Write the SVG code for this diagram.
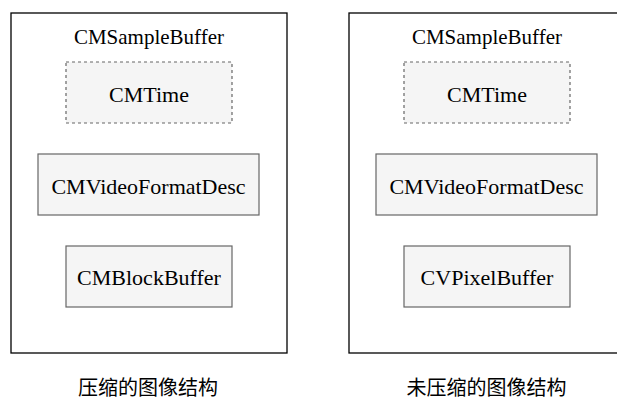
<svg xmlns="http://www.w3.org/2000/svg" width="617" height="403" viewBox="0 0 617 403">
<style>
.outer{fill:#fff;stroke:#000;stroke-width:1.3}
.inner{fill:#f5f5f5;stroke:#666;stroke-width:1.2}
.dash{stroke-dasharray:3 3}
.t{font-family:"Liberation Serif","Times New Roman",serif;font-size:22px;fill:#000;text-anchor:middle}
.title{font-size:21px}
.cap{font-family:"Noto Sans CJK SC","Noto Sans",sans-serif;font-size:20px;fill:#000;text-anchor:middle}
</style>
<rect width="617" height="403" fill="#fff"/>
<g id="left">
  <g id="left-buffer">
    <rect class="outer" x="11" y="13" width="276" height="340"/>
    <text class="t title" x="149" y="43.5">CMSampleBuffer</text>
  </g>
  <g id="left-cmtime">
    <rect class="inner dash" x="66" y="62" width="166" height="61"/>
    <text class="t" x="149" y="102">CMTime</text>
  </g>
  <g id="left-format">
    <rect class="inner" x="38" y="154" width="221" height="61"/>
    <text class="t" x="148.5" y="193.5">CMVideoFormatDesc</text>
  </g>
  <g id="left-block">
    <rect class="inner" x="66" y="246" width="166" height="61"/>
    <text class="t" x="149" y="285">CMBlockBuffer</text>
  </g>
  <text class="cap" x="148" y="395">压缩的图像结构</text>
</g>
<g id="right">
  <g id="right-buffer">
    <rect class="outer" x="349" y="13" width="276" height="340"/>
    <text class="t title" x="487" y="43.5">CMSampleBuffer</text>
  </g>
  <g id="right-cmtime">
    <rect class="inner dash" x="404" y="62" width="166" height="61"/>
    <text class="t" x="487" y="102">CMTime</text>
  </g>
  <g id="right-format">
    <rect class="inner" x="376" y="154" width="221" height="61"/>
    <text class="t" x="486.5" y="193.5">CMVideoFormatDesc</text>
  </g>
  <g id="right-pixel">
    <rect class="inner" x="404" y="246" width="166" height="61"/>
    <text class="t" x="487" y="285">CVPixelBuffer</text>
  </g>
  <text class="cap" x="486.5" y="395">未压缩的图像结构</text>
</g>
<g id="connectors"></g>
</svg>
